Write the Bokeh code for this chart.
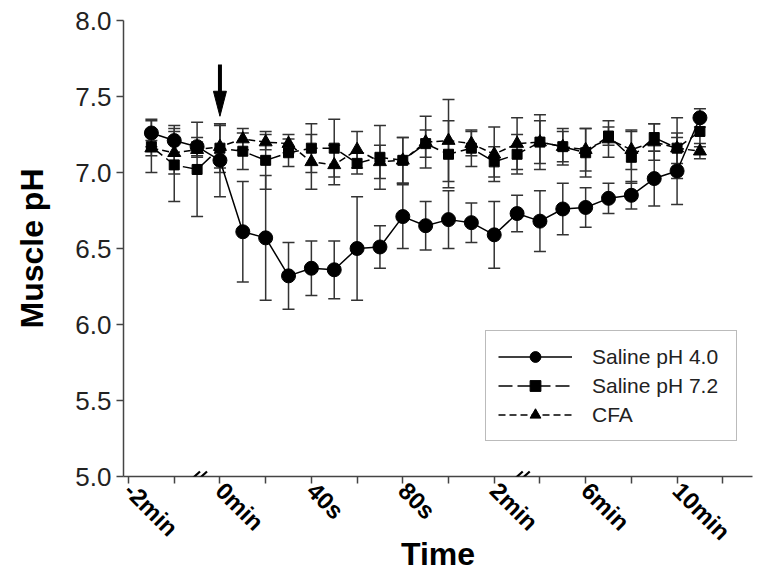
from bokeh.plotting import figure
from bokeh.models import (ColumnDataSource, Whisker, TeeHead, Arrow, Legend, LegendItem,
                          FixedTicker, Range1d)
from bokeh.embed import file_html
from bokeh.resources import INLINE

# ---- data -------------------------------------------------------------
x_pos = [0.5, 1.0, 1.5, 2.0, 2.5, 3.0, 3.5, 4.0, 4.5, 5.0, 5.5, 6.0, 6.5,
         7.0, 7.5, 8.0, 8.5, 9.0, 9.5, 10.0, 10.5, 11.0, 11.5, 12.0, 12.5]

saline40 = [7.26, 7.21, 7.17, 7.08, 6.61, 6.57, 6.32, 6.37, 6.36, 6.50, 6.51, 6.71, 6.65,
            6.69, 6.67, 6.59, 6.73, 6.68, 6.76, 6.77, 6.83, 6.85, 6.96, 7.01, 7.36]
saline40_err = [0.09, 0.10, 0.06, 0.24, 0.33, 0.41, 0.22, 0.18, 0.19, 0.34, 0.14, 0.21, 0.16,
                0.19, 0.13, 0.22, 0.12, 0.20, 0.17, 0.13, 0.10, 0.09, 0.18, 0.22, 0.06]

saline72 = [7.17, 7.05, 7.02, 7.16, 7.14, 7.08, 7.13, 7.16, 7.16, 7.06, 7.10, 7.08, 7.19,
            7.12, 7.16, 7.07, 7.12, 7.20, 7.17, 7.13, 7.24, 7.10, 7.23, 7.16, 7.27]
saline72_err = [0.17, 0.24, 0.31, 0.16, 0.12, 0.19, 0.09, 0.16, 0.19, 0.07, 0.21, 0.15, 0.09,
                0.22, 0.12, 0.10, 0.13, 0.18, 0.12, 0.16, 0.06, 0.17, 0.09, 0.20, 0.10]

cfa = [7.16, 7.13, 7.15, 7.17, 7.22, 7.20, 7.19, 7.07, 7.05, 7.15, 7.07, 7.08, 7.20,
       7.21, 7.19, 7.12, 7.19, 7.20, 7.17, 7.15, 7.22, 7.15, 7.20, 7.16, 7.14]
cfa_err = [0.05, 0.14, 0.05, 0.14, 0.07, 0.05, 0.06, 0.18, 0.13, 0.12, 0.11, 0.15, 0.17,
           0.27, 0.08, 0.18, 0.17, 0.14, 0.10, 0.14, 0.12, 0.13, 0.12, 0.10, 0.05]

x_ticks = [0, 1, 2, 3, 4, 5, 6, 7, 8, 9, 10, 11, 12, 13]
x_tick_labels = {0: "-2min", 2: "0min", 4: "40s", 6: "80s", 8: "2min", 10: "6min", 12: "10min"}
y_ticks = [5.0, 5.5, 6.0, 6.5, 7.0, 7.5, 8.0]
break_positions = [1.52, 8.58]
injection_time = 2.0
arrow_tip = 7.37
arrow_tail = 7.71

FONT = "Liberation Sans"

# ---- figure -----------------------------------------------------------
X0, X1 = -0.11, 13.65
Y0, Y1 = 5.0, 8.0
W, H = 758, 575
BL, BR, BT, BB = 123, 6, 20, 99
fw = W - BL - BR
fh = H - BT - BB
ux = (X1 - X0) / fw   # data units per px
uy = (Y1 - Y0) / fh

p = figure(width=W, height=H, x_range=Range1d(X0, X1), y_range=Range1d(Y0, Y1),
           output_backend="svg", toolbar_location=None,
           min_border_left=BL, min_border_right=BR, min_border_top=BT, min_border_bottom=BB)
p.outline_line_color = None
p.grid.visible = False
p.background_fill_color = "white"

# axes
p.xaxis.ticker = FixedTicker(ticks=x_ticks)
p.xaxis.major_label_overrides = {t: x_tick_labels.get(t, "") for t in x_ticks}
p.xaxis.major_label_orientation = -0.785398
p.xaxis.major_label_text_font = FONT
p.xaxis.major_label_text_font_style = "bold"
p.xaxis.major_label_text_font_size = "24px"
p.xaxis.major_label_text_color = "black"
p.xaxis.major_label_standoff = 3
p.xaxis.axis_label = "Time"
p.xaxis.axis_label_text_font = FONT
p.xaxis.axis_label_text_font_style = "bold"
p.xaxis.axis_label_text_font_size = "32px"
p.xaxis.axis_label_text_color = "black"
p.xaxis.axis_label_standoff = -22

p.yaxis.ticker = FixedTicker(ticks=y_ticks)
p.yaxis.major_label_overrides = {t: f"{t:.1f}" for t in y_ticks}
p.yaxis.major_label_text_font = FONT
p.yaxis.major_label_text_font_size = "26px"
p.yaxis.major_label_text_color = "#222222"
p.yaxis.major_label_standoff = 5
p.yaxis.axis_label = "Muscle pH"
p.yaxis.axis_label_text_font = FONT
p.yaxis.axis_label_text_font_style = "bold"
p.yaxis.axis_label_text_font_size = "32px"
p.yaxis.axis_label_text_color = "black"
p.yaxis.axis_label_standoff = 22

for ax in (p.xaxis, p.yaxis):
    ax.axis_line_color = "#444444"
    ax.axis_line_width = 1.5
    ax.major_tick_line_color = "#444444"
    ax.major_tick_line_width = 1.5
    ax.major_tick_out = 7
    ax.major_tick_in = 0
    ax.minor_tick_line_color = None

# ---- series -----------------------------------------------------------
series = [
    ("Saline pH 4.0", saline40, saline40_err, "circle", 14, "solid"),
    ("Saline pH 7.2", saline72, saline72_err, "square", 10, "14 5"),
    ("CFA", cfa, cfa_err, "triangle", 13, "7 4"),
]

sources = []
for name, vals, errs, marker, size, dash in series:
    src = ColumnDataSource(dict(x=x_pos, y=vals,
                                lo=[v - e for v, e in zip(vals, errs)],
                                hi=[v + e for v, e in zip(vals, errs)]))
    sources.append(src)
    w = Whisker(source=src, base="x", upper="hi", lower="lo", dimension="height",
                line_color="#333333", line_width=1.5, level="underlay",
                upper_head=TeeHead(size=12, line_color="#333333", line_width=1.5),
                lower_head=TeeHead(size=12, line_color="#333333", line_width=1.5))
    p.add_layout(w)

lines = []
for (name, vals, errs, marker, size, dash), src in zip(series, sources):
    ln = p.line("x", "y", source=src, line_color="black", line_width=1.5, line_dash=dash)
    lines.append(ln)

marks = {}
for idx in (1, 2, 0):
    name, vals, errs, marker, size, dash = series[idx]
    marks[idx] = p.scatter("x", "y", source=sources[idx], marker=marker, size=size,
                           fill_color="black", line_color="black")

legend = Legend(items=[LegendItem(label=series[i][0], renderers=[lines[i], marks[i]])
                       for i in range(3)],
                location=(362, 35), glyph_width=74, glyph_height=27, label_height=26,
                label_width=132, label_standoff=20, spacing=2, padding=12, margin=0,
                label_text_font=FONT, label_text_font_size="21px", label_text_color="#222222",
                border_line_color="#777777", border_line_width=1.2,
                background_fill_color="white", background_fill_alpha=1.0)
p.add_layout(legend)

# ---- injection arrow --------------------------------------------------
head_h = 25 * uy
head_w = 13 * ux
p.add_layout(Arrow(x_start=injection_time, y_start=arrow_tail,
                   x_end=injection_time, y_end=arrow_tip + head_h * 0.9,
                   line_width=4, line_color="black", end=None))
p.patch([injection_time - head_w / 2, injection_time + head_w / 2, injection_time],
        [arrow_tip + head_h, arrow_tip + head_h, arrow_tip],
        fill_color="black", line_color="black")

# ---- axis break marks -------------------------------------------------
for bx in break_positions:
    for off in (-3.5, 3.5):
        p.add_layout(Arrow(x_start=bx + (off - 5.5) * ux, y_start=Y0 - 5 * uy,
                           x_end=bx + (off + 5.5) * ux, y_end=Y0 + 5 * uy,
                           line_width=2.2, line_color="black", start=None, end=None))

open("out.html", "w").write(file_html(p, INLINE))
